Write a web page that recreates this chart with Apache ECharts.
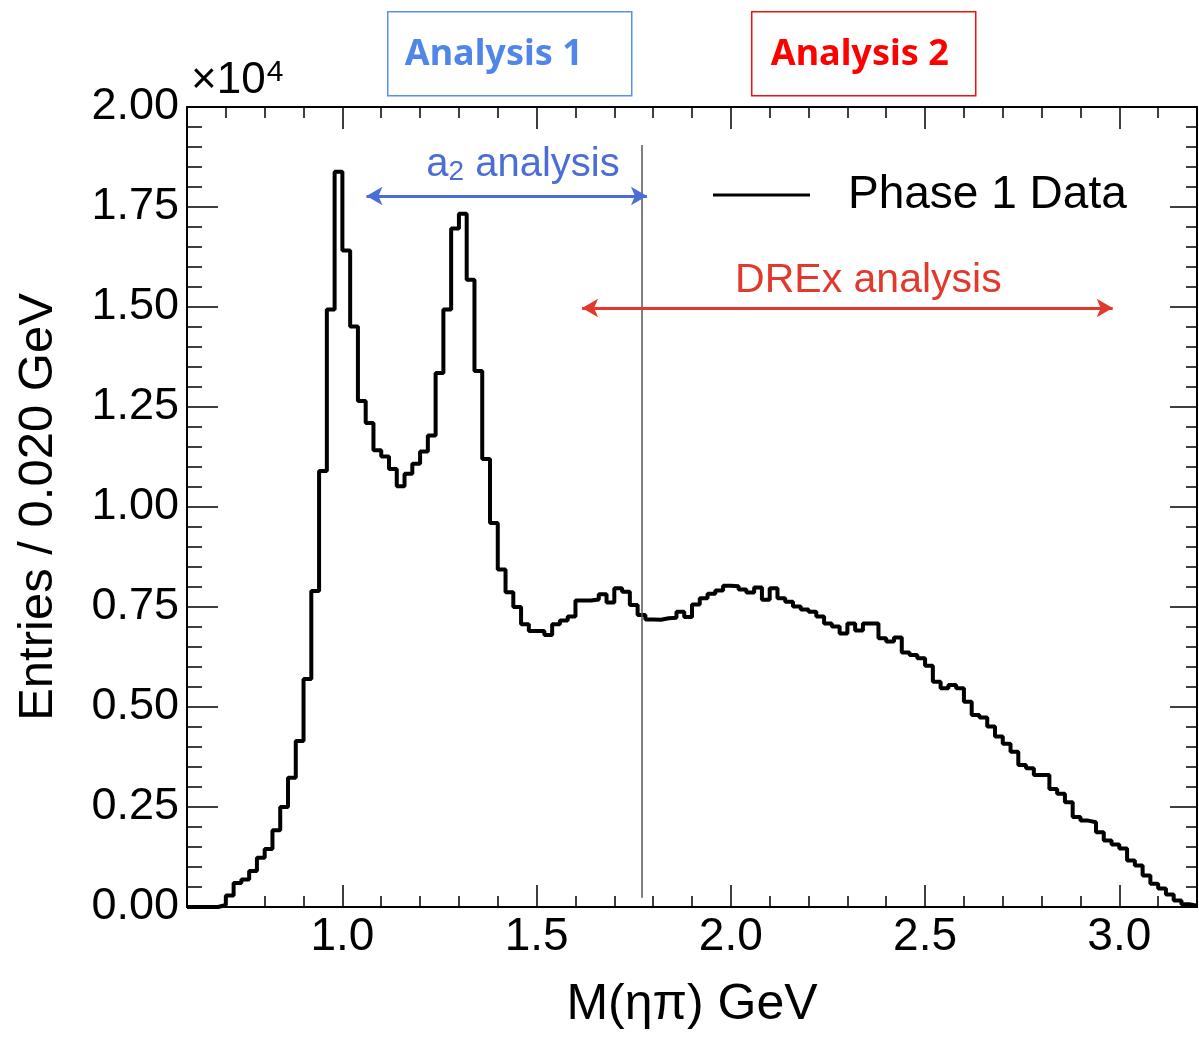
<!DOCTYPE html>
<html>
<head>
<meta charset="utf-8">
<title>M(eta pi) Phase 1</title>
<script src="https://cdn.jsdelivr.net/npm/echarts@6/dist/echarts.min.js"></script>
<style>
  html, body { margin: 0; padding: 0; background: #fff; }
  #main { width: 1199px; height: 1037px; }
</style>
</head>
<body>
<div id="main"></div>
<script>
// histogram: 130 bins of 0.020 GeV starting at 0.60 GeV
const xMin = 0.6
const xMax = 3.2
const binWidth = 0.02
const counts = [
  0, 0, 0, 0, 50, 290, 600, 690, 900, 1230,
  1450, 1920, 2500, 3230, 4150, 5700, 7900, 10900, 14940, 18380,
  16410, 14510, 12650, 12100, 11420, 11260, 10950, 10520, 10830, 11080,
  11390, 11790, 13350, 14940, 16960, 17330, 15680, 13400, 11200, 9600,
  8440, 7870, 7500, 7070, 6900, 6900, 6800, 7070, 7160, 7260,
  7660, 7660, 7690, 7820, 7610, 7970, 7880, 7550, 7300, 7190,
  7180, 7220, 7230, 7380, 7250, 7560, 7720, 7830, 7910, 8030,
  8020, 7940, 7860, 7990, 7680, 7970, 7720, 7630, 7510, 7440,
  7380, 7260, 7090, 7010, 6840, 7090, 6910, 7090, 7090, 6720,
  6640, 6740, 6360, 6300, 6220, 6030, 5630, 5470, 5550, 5470,
  5130, 4800, 4740, 4510, 4260, 4080, 3880, 3550, 3470, 3300,
  3300, 2950, 2830, 2620, 2250, 2160, 2120, 1870, 1660, 1560,
  1460, 1160, 1040, 790, 580, 460, 310, 160, 70, 30
]

const xMajorTicks = [1.0, 1.5, 2.0, 2.5, 3.0]
const xMinorTicks = [0.6, 0.7, 0.8, 0.9, 1.0, 1.1, 1.2, 1.3, 1.4, 1.5, 1.6, 1.7, 1.8, 1.9,
  2.0, 2.1, 2.2, 2.3, 2.4, 2.5, 2.6, 2.7, 2.8, 2.9, 3.0, 3.1, 3.2]

// annotation ranges (GeV) and heights (entries)
const a2Range = [1.062, 1.784]
const a2Height = 17775
const drexRange = [1.617, 2.983]
const drexHeight = 14975
const cutLine = 1.77

const blue = '#4a6dd6'
const red = '#e3392c'
const font = 'Liberation Sans, Arial, Helvetica, sans-serif'

// step points at low bin edges, plus closing edge
const histData = counts.map((c, i) => [+(xMin + i * binWidth).toFixed(2), c])
histData.push([xMax, counts[counts.length - 1]])

const tickLine = { color: '#000', width: 1.5 }

const chart = echarts.init(document.getElementById('main'))
const option = {
  animation: false,
  grid: { left: 187, right: 2, top: 107, bottom: 130, show: false },
  xAxis: [
    {
      type: 'value', position: 'bottom', min: xMin, max: xMax,
      axisLine: { show: true, lineStyle: { color: '#000', width: 2 } },
      axisTick: { show: true, inside: true, length: 22, customValues: xMajorTicks, lineStyle: tickLine },
      axisLabel: {
        customValues: xMajorTicks, formatter: v => v.toFixed(1),
        fontSize: 46, color: '#000', fontFamily: font, margin: 7
      },
      splitLine: { show: false },
      name: 'M(ηπ) GeV', nameLocation: 'middle', nameGap: 73,
      nameTextStyle: { fontSize: 50, color: '#000', fontFamily: font }
    },
    {
      type: 'value', position: 'bottom', min: xMin, max: xMax,
      axisLine: { show: false },
      axisTick: { show: true, inside: true, length: 11, customValues: xMinorTicks, lineStyle: tickLine },
      axisLabel: { show: false }, splitLine: { show: false }
    },
    {
      type: 'value', position: 'top', min: xMin, max: xMax,
      axisLine: { show: true, lineStyle: { color: '#000', width: 2 } },
      axisTick: { show: true, inside: true, length: 22, customValues: xMajorTicks, lineStyle: tickLine },
      axisLabel: { show: false }, splitLine: { show: false }
    },
    {
      type: 'value', position: 'top', min: xMin, max: xMax,
      axisLine: { show: false },
      axisTick: { show: true, inside: true, length: 11, customValues: xMinorTicks, lineStyle: tickLine },
      axisLabel: { show: false }, splitLine: { show: false }
    }
  ],
  yAxis: [
    {
      type: 'value', position: 'left', min: 0, max: 20000, interval: 2500,
      axisLine: { show: true, lineStyle: { color: '#000', width: 2 } },
      axisTick: { show: true, inside: true, length: 31, lineStyle: tickLine },
      minorTick: { show: true, splitNumber: 5, length: 15, lineStyle: tickLine },
      axisLabel: {
        formatter: v => (v / 10000).toFixed(2),
        fontSize: 45, color: '#000', fontFamily: font, margin: 8
      },
      splitLine: { show: false },
      name: 'Entries / 0.020 GeV', nameLocation: 'middle', nameGap: 124,
      nameTextStyle: { fontSize: 49, color: '#000', fontFamily: font }
    },
    {
      type: 'value', position: 'right', min: 0, max: 20000, interval: 2500,
      axisLine: { show: true, lineStyle: { color: '#000', width: 2 } },
      axisTick: { show: true, inside: true, length: 27, lineStyle: tickLine },
      minorTick: { show: true, splitNumber: 5, length: 11, lineStyle: tickLine },
      axisLabel: { show: false }, splitLine: { show: false }
    }
  ],
  legend: {
    left: 713, top: 170, padding: 0,
    icon: 'rect', itemWidth: 97, itemHeight: 3,
    textStyle: { fontSize: 46, lineHeight: 50, color: '#000', fontFamily: font, padding: [0, 0, 0, 33] },
    data: ['Phase 1 Data']
  },
  series: [
    {
      name: 'Phase 1 Data',
      type: 'line',
      step: 'end',
      data: histData,
      showSymbol: false,
      lineStyle: { color: '#000', width: 4 },
      itemStyle: { color: '#000' },
      silent: true,
      markLine: {
        silent: true,
        symbolSize: [14, 16],
        label: { show: false },
        data: [
          [
            { coord: [cutLine, 230], symbol: 'none', lineStyle: { color: '#555', width: 1.5, type: 'solid' } },
            { coord: [cutLine, 19050], symbol: 'none' }
          ],
          [
            { coord: [a2Range[0], a2Height], symbol: 'arrow', lineStyle: { color: blue, width: 3, type: 'solid' } },
            { coord: [a2Range[1], a2Height], symbol: 'arrow' }
          ],
          [
            { coord: [drexRange[0], drexHeight], symbol: 'arrow', lineStyle: { color: red, width: 3, type: 'solid' } },
            { coord: [drexRange[1], drexHeight], symbol: 'arrow' }
          ]
        ]
      },
      markPoint: {
        silent: true,
        symbol: 'circle', symbolSize: 0,
        data: [
          {
            coord: [1.465, 18550],
            label: {
              show: true, formatter: 'a{s|2} analysis', color: blue, fontSize: 40, fontFamily: font,
              rich: { s: { fontSize: 28, color: blue, fontFamily: font, verticalAlign: 'bottom', padding: [14, 0, 0, 0] } }
            }
          },
          {
            coord: [2.354, 15650],
            label: { show: true, formatter: 'DREx analysis', color: red, fontSize: 41, fontFamily: font }
          }
        ]
      }
    }
  ],
  graphic: [
    {
      type: 'text', left: 191, top: 58,
      style: {
        text: '{a|×10}{s|4}',
        rich: {
          a: { fontSize: 44, fill: '#000', fontFamily: font },
          s: { fontSize: 30, fill: '#000', fontFamily: font, verticalAlign: 'top', padding: [0, 0, 16, 1] }
        }
      }
    },
    {
      type: 'group', left: 387, top: 11,
      children: [
        { type: 'rect', shape: { x: 0, y: 0, width: 244, height: 84 }, style: { fill: '#fff', stroke: '#5a8ff0', lineWidth: 1.5 } },
        { type: 'text', x: 17, y: 43, style: { text: 'Analysis 1', fill: '#4f86e8', fontSize: 36, fontWeight: 'bold', fontFamily: 'Noto Sans, Open Sans, sans-serif', verticalAlign: 'middle' } }
      ]
    },
    {
      type: 'group', left: 751, top: 11,
      children: [
        { type: 'rect', shape: { x: 0, y: 0, width: 224, height: 84 }, style: { fill: '#fff', stroke: '#f01010', lineWidth: 1.5 } },
        { type: 'text', x: 19, y: 43, style: { text: 'Analysis 2', fill: '#ff0000', fontSize: 36, fontWeight: 'bold', fontFamily: 'Noto Sans, Open Sans, sans-serif', verticalAlign: 'middle' } }
      ]
    }
  ]
}
chart.setOption(option)
</script>
</body>
</html>
